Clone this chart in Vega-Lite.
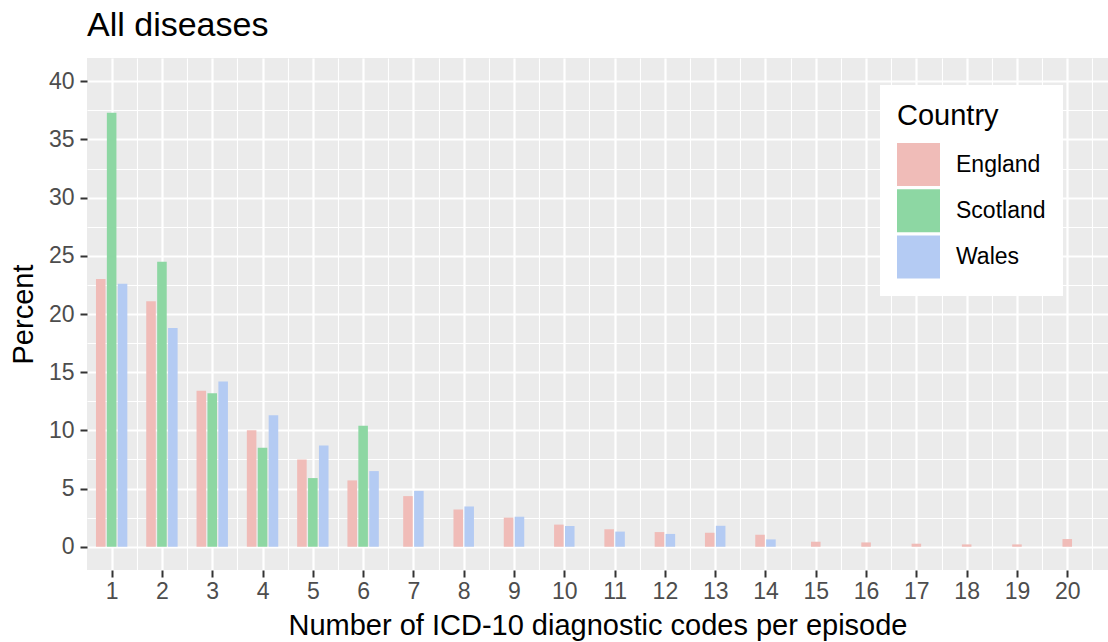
{
  "$schema": "https://vega.github.io/schema/vega-lite/v6.json",
  "width": 1021,
  "height": 512,
  "autosize": {"type": "none"},
  "padding": {"left": 87, "top": 58, "right": 0, "bottom": 72},
  "background": "white",
  "title": {"text": "All diseases", "anchor": "start", "frame": "group", "fontSize": 34, "fontWeight": "normal", "color": "black", "baseline": "alphabetic", "offset": -11.5},
  "config": {
    "font": "Liberation Sans",
    "view": {"fill": "#EBEBEB", "stroke": null},
    "axis": {"domain": false, "gridColor": "white", "tickColor": "#333333", "tickWidth": 2, "tickSize": 7, "labelColor": "#4D4D4D", "labelFontSize": 23, "titleFontSize": 29, "titleFontWeight": "normal", "titleColor": "black"}
  },
  "data": {"values": [
    {"codes": 1, "country": "England", "pct": 23.0},
    {"codes": 1, "country": "Scotland", "pct": 37.3},
    {"codes": 1, "country": "Wales", "pct": 22.6},
    {"codes": 2, "country": "England", "pct": 21.1},
    {"codes": 2, "country": "Scotland", "pct": 24.5},
    {"codes": 2, "country": "Wales", "pct": 18.8},
    {"codes": 3, "country": "England", "pct": 13.4},
    {"codes": 3, "country": "Scotland", "pct": 13.2},
    {"codes": 3, "country": "Wales", "pct": 14.2},
    {"codes": 4, "country": "England", "pct": 10.0},
    {"codes": 4, "country": "Scotland", "pct": 8.5},
    {"codes": 4, "country": "Wales", "pct": 11.3},
    {"codes": 5, "country": "England", "pct": 7.5},
    {"codes": 5, "country": "Scotland", "pct": 5.9},
    {"codes": 5, "country": "Wales", "pct": 8.7},
    {"codes": 6, "country": "England", "pct": 5.7},
    {"codes": 6, "country": "Scotland", "pct": 10.4},
    {"codes": 6, "country": "Wales", "pct": 6.5},
    {"codes": 7, "country": "England", "pct": 4.35},
    {"codes": 7, "country": "Wales", "pct": 4.8},
    {"codes": 8, "country": "England", "pct": 3.2},
    {"codes": 8, "country": "Wales", "pct": 3.46},
    {"codes": 9, "country": "England", "pct": 2.5},
    {"codes": 9, "country": "Wales", "pct": 2.58},
    {"codes": 10, "country": "England", "pct": 1.9},
    {"codes": 10, "country": "Wales", "pct": 1.78},
    {"codes": 11, "country": "England", "pct": 1.5},
    {"codes": 11, "country": "Wales", "pct": 1.3},
    {"codes": 12, "country": "England", "pct": 1.26},
    {"codes": 12, "country": "Wales", "pct": 1.1},
    {"codes": 13, "country": "England", "pct": 1.2},
    {"codes": 13, "country": "Wales", "pct": 1.8},
    {"codes": 14, "country": "England", "pct": 1.03},
    {"codes": 14, "country": "Wales", "pct": 0.63},
    {"codes": 15, "country": "England", "pct": 0.43},
    {"codes": 16, "country": "England", "pct": 0.37},
    {"codes": 17, "country": "England", "pct": 0.26},
    {"codes": 18, "country": "England", "pct": 0.2},
    {"codes": 19, "country": "England", "pct": 0.2},
    {"codes": 20, "country": "England", "pct": 0.66}
  ]},
  "transform": [
    {"joinaggregate": [{"op": "count", "as": "n"}], "groupby": ["codes"]},
    {"window": [{"op": "row_number", "as": "idx"}], "groupby": ["codes"], "sort": [{"field": "country", "order": "ascending"}]},
    {"calculate": "datum.codes + (datum.idx - (datum.n + 1) / 2) * 0.217 - 0.095", "as": "xa"},
    {"calculate": "datum.codes + (datum.idx - (datum.n + 1) / 2) * 0.217 + 0.095", "as": "xb"}
  ],
  "layer": [
    {
      "mark": {"type": "rule", "opacity": 0},
      "encoding": {
        "x": {"field": "xa", "type": "quantitative", "scale": {"domain": [0.51, 20.81], "nice": false, "zero": false},
              "axis": {"orient": "top", "values": [0.5, 1.5, 2.5, 3.5, 4.5, 5.5, 6.5, 7.5, 8.5, 9.5, 10.5, 11.5, 12.5, 13.5, 14.5, 15.5, 16.5, 17.5, 18.5, 19.5, 20.5], "labels": false, "ticks": false, "domain": false, "title": null, "grid": true, "gridWidth": 1.1}},
        "y": {"field": "pct", "type": "quantitative", "scale": {"domain": [-2, 42], "nice": false, "zero": false},
              "axis": {"orient": "right", "values": [2.5, 7.5, 12.5, 17.5, 22.5, 27.5, 32.5, 37.5], "labels": false, "ticks": false, "domain": false, "title": null, "grid": true, "gridWidth": 1.1}}
      }
    },
    {
      "mark": {"type": "bar"},
      "encoding": {
        "x": {"field": "xa", "type": "quantitative",
              "axis": {"orient": "bottom", "values": [1, 2, 3, 4, 5, 6, 7, 8, 9, 10, 11, 12, 13, 14, 15, 16, 17, 18, 19, 20], "grid": true, "gridWidth": 2.2, "labelPadding": 3, "title": "Number of ICD-10 diagnostic codes per episode", "titleY": 64, "titleBaseline": "alphabetic"}},
        "x2": {"field": "xb"},
        "y": {"field": "pct", "type": "quantitative",
              "axis": {"orient": "left", "values": [0, 5, 10, 15, 20, 25, 30, 35, 40], "grid": true, "gridWidth": 2.2, "labelPadding": 6, "title": "Percent", "titleX": -55, "titleBaseline": "alphabetic"}},
        "y2": {"datum": 0},
        "color": {"field": "country", "type": "nominal",
                  "scale": {"domain": ["England", "Scotland", "Wales"], "range": ["#F0BCB8", "#8DD7A3", "#B4CBF3"]},
                  "legend": {"orient": "none", "legendX": 793, "legendY": 27, "fillColor": "white", "padding": 17, "title": "Country", "titleFontSize": 29, "titleFontWeight": "normal", "titleColor": "black", "labelFontSize": 23, "labelColor": "black", "symbolType": "square", "symbolSize": 1849, "symbolStrokeWidth": 0, "symbolOpacity": 1, "labelOffset": 16, "rowPadding": 3.3, "titlePadding": 12}}
      }
    }
  ],
  "resolve": {"axis": {"x": "independent", "y": "independent"}}
}
